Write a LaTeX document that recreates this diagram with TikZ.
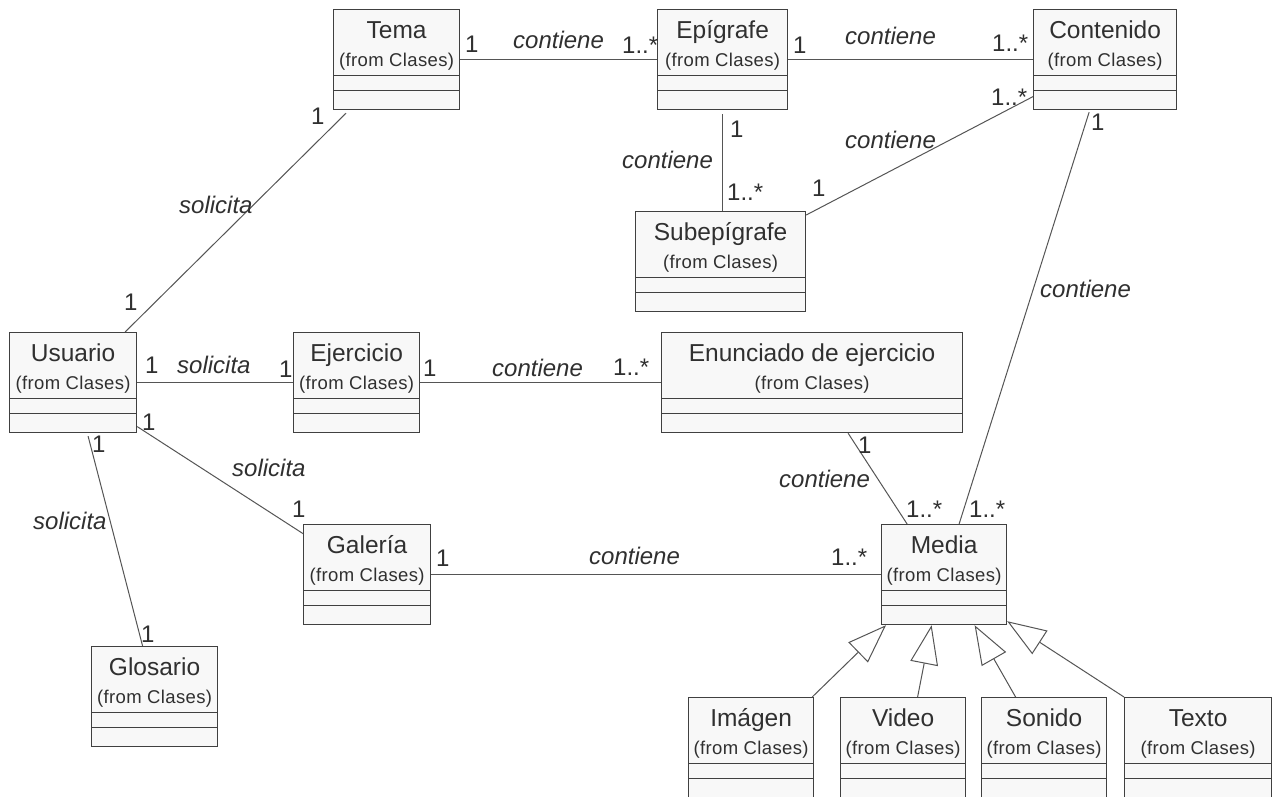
\documentclass[tikz,border=0pt]{standalone}
\usepackage{fontspec}
\setmainfont{Liberation Sans}
\usetikzlibrary{calc,arrows.meta}
\definecolor{boxfill}{HTML}{F8F8F8}
\definecolor{boxline}{HTML}{404040}
\definecolor{txt}{HTML}{303030}
\definecolor{conn}{HTML}{555555}
\tikzset{
 cls/.style={draw=boxline, fill=boxfill, line width=1.2pt, rectangle, inner sep=0pt, anchor=north west},
 ttl/.style={text=txt, font=\fontsize{24.5}{27}\selectfont, anchor=base, inner sep=0pt},
 subt/.style={text=txt, font=\fontsize{18.5}{20}\selectfont\addfontfeature{LetterSpace=2}, anchor=base, inner sep=0pt},
 comp/.style={draw=boxline, line width=1pt},
 assoc/.style={draw=conn, line width=1pt},
 gen/.style={draw=conn, line width=1pt, -{Triangle[length=39pt,width=28pt,fill=white]}},
 mult/.style={text=txt, font=\fontsize{24}{26}\selectfont, anchor=base west, inner sep=0pt},
 role/.style={text=txt, font=\fontsize{24}{26}\selectfont\itshape, anchor=base west, inner sep=0pt},
}
\newcommand\umlcls[6]{%
 \node[cls, minimum width=#4pt, minimum height=#5pt] (#1) at (#2,#3) {};
 \node[ttl] (#1-t) at ($(#1.north)+(0,29)$) {#6};
 \node[subt] (#1-s) at ($(#1.north)+(0,57)$) {(from Clases)};
 \draw[comp] ($(#1.north west)+(0,66.5)$) -- ($(#1.north east)+(0,66.5)$);
 \draw[comp] ($(#1.north west)+(0,81)$) -- ($(#1.north east)+(0,81)$);
}
\begin{document}
\begin{tikzpicture}[x=1pt,y=-1pt]
\fill[white] (0,0) rectangle (1273,796);
\useasboundingbox (0,0) rectangle (1273,796);
% classes
\umlcls{tema}{333}{9}{126}{100}{Tema}
\umlcls{epi}{657}{9}{130}{100}{Epígrafe}
\umlcls{cont}{1033}{9}{143}{100}{Contenido}
\umlcls{subepi}{635}{211}{170}{100}{Subepígrafe}
\umlcls{usu}{9}{332}{127}{100}{Usuario}
\umlcls{eje}{293}{332}{126}{100}{Ejercicio}
\umlcls{enun}{661}{332}{301}{100}{Enunciado de ejercicio}
\umlcls{gal}{303}{524}{127}{100}{Galería}
\umlcls{media}{881}{524}{125}{100}{Media}
\umlcls{glo}{91}{646}{126}{100}{Glosario}
\umlcls{img}{688}{697}{125}{100}{Imágen}
\umlcls{vid}{840}{697}{125}{100}{Video}
\umlcls{son}{981}{697}{125}{100}{Sonido}
\umlcls{tex}{1124}{697}{147}{100}{Texto}
% associations
\draw[assoc] (tema.east) -- (epi.west);
\draw[assoc] (epi.east) -- (cont.west);
\draw[assoc] ([yshift=-4pt]epi.south) -- (epi.south |- subepi.north);
\draw[assoc] ([yshift=-37pt]cont.west) -- ([yshift=-4pt]subepi.north east);
\draw[assoc] ([xshift=-16pt,yshift=-2pt]cont.south) -- ([xshift=15pt]media.north);
\draw[assoc] ([xshift=13pt,yshift=-3pt]tema.south west) -- ([xshift=52pt]usu.north);
\draw[assoc] (usu.east) -- (eje.west);
\draw[assoc] (eje.east) -- (enun.west);
\draw[assoc] ([xshift=36pt]enun.south) -- ([xshift=-37pt]media.north);
\draw[assoc] ([yshift=-44pt]usu.east) -- ([yshift=41pt]gal.west);
\draw[assoc] ([xshift=15pt,yshift=-3pt]usu.south) -- ([xshift=-12pt]glo.north);
\draw[assoc] (gal.east) -- (gal.east -| media.west);
% generalizations
\draw[gen] ([xshift=-2pt]img.north east) -- ([xshift=5pt]media.south west);
\draw[gen] ([xshift=14.5pt]vid.north) -- ([xshift=-12.5pt]media.south);
\draw[gen] ([xshift=-28.5pt]son.north) -- ([xshift=30.5pt]media.south);
\draw[gen] (tex.north west) -- ([yshift=4pt]media.south east);
% labels
\node[mult] (m1) at (465,52) {1};
\node[role] (r1) at (513,48) {contiene};
\node[mult] (m2) at (622,53) {1..*};
\node[mult] (m3) at (793,53) {1};
\node[role] (r2) at (845,44) {contiene};
\node[mult] (m4) at (992,51) {1..*};
\node[mult] (m5) at (730,137) {1};
\node[role] (r3) at (622,168) {contiene};
\node[mult] (m6) at (727,200) {1..*};
\node[mult] (m7) at (991,105) {1..*};
\node[role] (r4) at (845,148) {contiene};
\node[mult] (m8) at (812,196) {1};
\node[mult] (m9) at (1091,130) {1};
\node[role] (r5) at (1040,297) {contiene};
\node[mult] (m10) at (969,517) {1..*};
\node[mult] (m11) at (311,124) {1};
\node[role] (r6) at (179,213) {solicita};
\node[mult] (m12) at (124,310) {1};
\node[mult] (m13) at (145,373) {1};
\node[role] (r7) at (177,373) {solicita};
\node[mult] (m14) at (279,377) {1};
\node[mult] (m15) at (423,376) {1};
\node[role] (r8) at (492,376) {contiene};
\node[mult] (m16) at (613,375) {1..*};
\node[mult] (m17) at (858,453) {1};
\node[role] (r9) at (779,487) {contiene};
\node[mult] (m18) at (906,517) {1..*};
\node[mult] (m19) at (142,430) {1};
\node[role] (r10) at (232,476) {solicita};
\node[mult] (m20) at (292,517) {1};
\node[mult] (m21) at (92,452) {1};
\node[role] (r11) at (33,529) {solicita};
\node[mult] (m22) at (141,642) {1};
\node[mult] (m23) at (436,566) {1};
\node[role] (r12) at (589,564) {contiene};
\node[mult] (m24) at (831,565) {1..*};
\end{tikzpicture}
\end{document}
